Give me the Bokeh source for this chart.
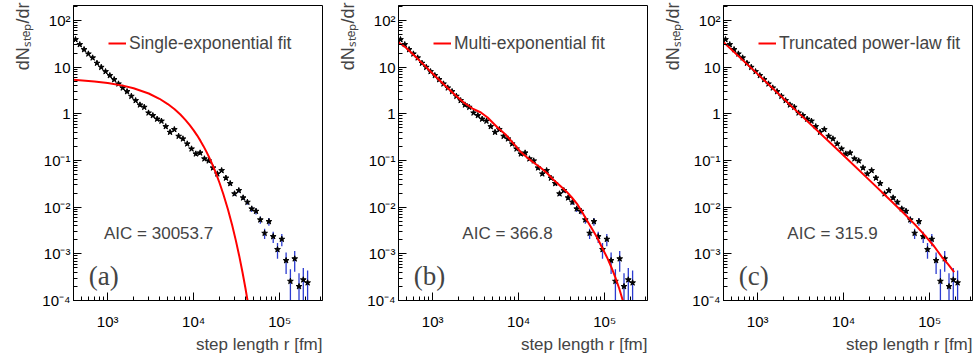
from bokeh.plotting import figure
from bokeh.layouts import row
from bokeh.models import FixedTicker, Label, Legend, LegendItem, Range1d, Title
from bokeh.core.properties import value
from bokeh.embed import file_html
from bokeh.resources import INLINE

# ---- data ----
step_r = [422, 473, 531, 596, 668, 750, 841, 944, 1059, 1189, 1334, 1496, 1679, 1884,
          2113, 2371, 2661, 2985, 3350, 3758, 4217, 4732, 5309, 5957, 6683, 7499, 8414,
          9441, 10593, 11885, 13335, 14962, 16788, 18836, 21135, 23714, 26607, 29854,
          33497, 37584, 42170, 47315, 53088, 59566, 66834, 74989, 84140, 94406, 105925,
          118850, 133352, 149624, 167880, 188365, 211349]
dn_dr = [39.2, 30.6, 23.9, 19.3, 15.9, 12.2, 9.98, 8.07, 6.63, 5.44, 4.40, 3.61, 3.01, 2.39,
         1.93, 1.56, 1.39, 1.05, 0.921, 0.775, 0.702, 0.535, 0.404, 0.462, 0.332, 0.292,
         0.228, 0.178, 0.139, 0.146, 0.109, 0.0986, 0.0698, 0.0519, 0.0611, 0.0422, 0.0322,
         0.0194, 0.0228, 0.0159, 0.0128, 0.00923, 0.0082, 0.00537, 0.00277, 0.00493,
         0.00235, 0.00124, 0.00206, 0.00072, 0.000259, 0.000784, 0.0002, 0.000278, 0.00024]
dn_err = [0.14, 0.12, 0.11, 0.1, 0.09, 0.08, 0.072, 0.065, 0.058, 0.052, 0.047, 0.042,
          0.038, 0.033, 0.03, 0.026, 0.025, 0.021, 0.02, 0.018, 0.017, 0.015, 0.013, 0.014,
          0.012, 0.011, 0.0098, 0.0086, 0.0074, 0.0079, 0.0064, 0.006, 0.0048, 0.0039,
          0.0047, 0.0035, 0.0028, 0.0019, 0.0022, 0.0016, 0.0015, 0.0013, 0.0012, 0.00097,
          0.00069, 0.00092, 0.00064, 0.00046, 0.0006, 0.00035, 0.00021, 0.00037, 0.000186,
          0.00022, 0.0002]

single_x = [400, 700, 1000, 1500, 2000, 3000, 4000, 5000, 6000, 7000, 8000, 9000, 10000,
            11000, 12000, 13000, 14000, 15000, 16000, 18000, 20000, 22000, 25000, 28000,
            31000, 34000, 37000, 40000, 43000]
single_y = [5.36, 4.96, 4.59, 4.03, 3.54, 2.73, 2.105, 1.624, 1.252, 0.966, 0.745, 0.575,
            0.443, 0.342, 0.2635, 0.2032, 0.1568, 0.1209, 0.0932, 0.0555, 0.0330, 0.01963,
            0.00901, 0.00413, 0.001896, 0.00087, 0.000399, 0.000183, 0.000084]

multi_x = [400, 486, 670, 829, 955, 1143, 1493, 1849, 2332, 2912, 3634, 4345, 5675, 7030,
           8772, 10578, 12550, 14850, 17900, 21580, 25540, 30550, 36530, 41530, 47720,
           54260, 62330, 70870, 81430, 92560, 106300, 119300, 132700, 147700, 163100]
multi_y = [34.3, 26.4, 15.1, 10.3, 7.88, 5.72, 3.58, 2.47, 1.707, 1.30, 1.068, 0.835, 0.51,
           0.361, 0.228, 0.152, 0.116, 0.0906, 0.0708, 0.0527, 0.0382, 0.02843, 0.02094,
           0.01612, 0.01181, 0.00808, 0.00518, 0.00349, 0.002273, 0.001402, 0.000848,
           0.000523, 0.000316, 0.000181, 0.0000977]

trunc_x = [400, 1083, 3153, 9183, 20460, 34910, 52120, 68080, 88920, 113100, 140000,
           164400, 192900]
trunc_y = [34.3, 6.2, 0.95, 0.148, 0.0362, 0.0141, 0.0069, 0.00418, 0.00242, 0.001437,
           0.000835, 0.000592, 0.000405]

panels = [
    ("Single-exponential fit", "AIC = 30053.7", 906, "(a)", single_x, single_y),
    ("Multi-exponential fit", "AIC = 366.8", 2211, "(b)", multi_x, multi_y),
    ("Truncated power-law fit", "AIC = 315.9", 2211, "(c)", trunc_x, trunc_y),
]

y_major = [1e-4, 1e-3, 1e-2, 1e-1, 1, 10, 100]
y_labels = {1e-4: "10⁻⁴", 1e-3: "10⁻³", 1e-2: "10⁻²", 1e-1: "10⁻¹", 1: "1", 10: "10", 100: "10²"}
x_major = [1e3, 1e4, 1e5]
x_labels = {1e3: "10³", 1e4: "10⁴", 1e5: "10⁵"}
x_title = "step length r [fm]"
y_title = "dNₛₜₑₚ/dr"

FONT = "Liberation Sans"
W, H = 325, 354
BL, BR, BT, BB = 73, 3, 5, 54


def minor_list(lo_exp, hi_exp):
    out = []
    for e in range(lo_exp, hi_exp):
        for m in range(2, 10):
            out.append(m * 10.0 ** e)
    return out


def make_panel(legend_text, aic_text, aic_x, tag, cx, cy):
    p = figure(width=W, height=H, x_axis_type="log", y_axis_type="log",
               x_range=Range1d(400, 315000), y_range=Range1d(1e-4, 210),
               output_backend="svg", toolbar_location=None,
               min_border_left=BL, min_border_right=BR, min_border_top=BT,
               min_border_bottom=BB)
    p.grid.visible = False
    p.outline_line_color = "black"
    p.outline_line_width = 1
    p.background_fill_color = "white"
    p.border_fill_color = "white"

    for ax in (p.xaxis[0], p.yaxis[0]):
        ax.axis_line_color = "black"
        ax.major_tick_in = 8
        ax.major_tick_out = 0
        ax.minor_tick_in = 4
        ax.minor_tick_out = 0
        ax.major_tick_line_color = "black"
        ax.minor_tick_line_color = "black"
        ax.major_label_text_font = FONT
        ax.major_label_text_font_size = "15px"
        ax.major_label_text_color = "black"

    p.yaxis.ticker = FixedTicker(ticks=y_major, minor_ticks=minor_list(-4, 3))
    p.yaxis.major_label_overrides = y_labels
    p.yaxis.major_label_standoff = 3
    p.xaxis.ticker = FixedTicker(ticks=x_major, minor_ticks=minor_list(2, 6))
    p.xaxis.major_label_overrides = x_labels
    p.xaxis.major_label_standoff = 12

    lower = [max(v - e, 1e-6) for v, e in zip(dn_dr, dn_err)]
    upper = [v + e for v, e in zip(dn_dr, dn_err)]
    p.segment(x0=step_r, y0=lower, x1=step_r, y1=upper, line_color="#2b3bd0", line_width=1.3)
    p.scatter(step_r, dn_dr, marker="star", size=6, color="black")

    r = p.line(cx, cy, line_color="#ff0000", line_width=2)

    leg = Legend(items=[LegendItem(label=value(legend_text), renderers=[r])],
                 location=(35, 246), border_line_color=None,
                 background_fill_alpha=0, padding=0, margin=0, spacing=0,
                 glyph_width=18, glyph_height=22, label_standoff=3, label_height=22,
                 label_text_font=FONT, label_text_font_size="17.5px")
    p.add_layout(leg)

    p.add_layout(Label(x=aic_x, y=2.73e-3, text=aic_text, text_font=FONT,
                       text_font_size="17px", text_baseline="alphabetic"))
    p.add_layout(Label(x=603, y=3.43e-4, text=tag, text_font="Liberation Serif",
                       text_font_size="27px", text_baseline="alphabetic"))

    p.add_layout(Title(text=x_title, align="right", text_font=FONT,
                       text_font_size="17px", text_font_style="normal",
                       standoff=0, offset=0), "below")
    p.add_layout(Title(text=y_title, align="right", text_font=FONT,
                       text_font_size="18px", text_font_style="normal",
                       standoff=14, offset=-3), "left")
    return p


figs = [make_panel(*args) for args in panels]
layout = row(*figs)
open("out.html", "w").write(file_html(layout, INLINE))
